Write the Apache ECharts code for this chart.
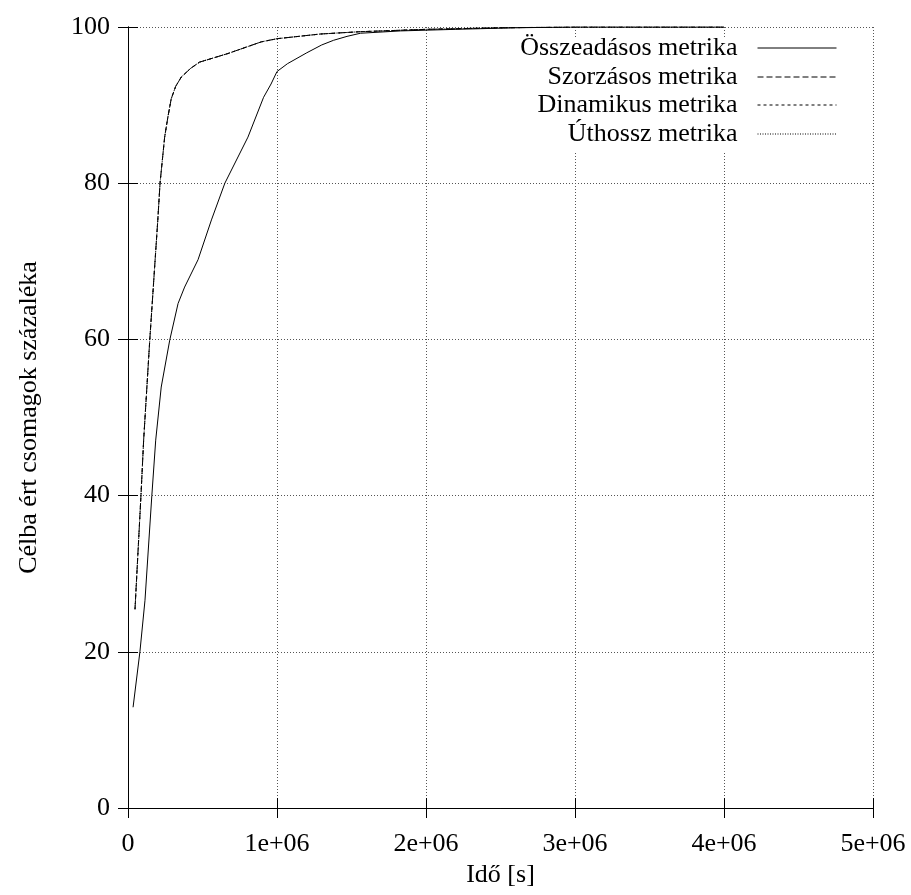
<!DOCTYPE html>
<html>
<head>
<meta charset="utf-8">
<script src="https://cdn.jsdelivr.net/npm/echarts@6/dist/echarts.min.js"></script>
<style>
  html, body { margin: 0; padding: 0; background: #fff; }
  #chart { width: 911px; height: 895px; }
</style>
</head>
<body>
<div id="chart"></div>
<script>
// Delivered-packet percentage over time for four routing metrics
const seriesNames = ['Összeadásos metrika', 'Szorzásos metrika', 'Dinamikus metrika', 'Úthossz metrika'];

// [time in seconds, percent]
const osszeadasos = [
  [34000, 12.9], [80000, 20], [114000, 26.6], [160000, 40], [186000, 47.1],
  [223000, 53.9], [280000, 59.9], [336000, 64.6], [380000, 66.7], [470000, 70.2],
  [560000, 75.3], [650000, 80], [805000, 85.9], [910000, 91], [960000, 92.7],
  [1000000, 94.3], [1070000, 95.3], [1200000, 96.7], [1300000, 97.7], [1380000, 98.3],
  [1470000, 98.8], [1560000, 99.2], [1830000, 99.5], [2200000, 99.7], [2600000, 99.9],
  [3000000, 100], [4000000, 100]
];
const szorzasos = [
  [47000, 25.5], [87000, 40], [105000, 47.1], [146000, 59.9], [200000, 75.3],
  [215000, 80], [246000, 85.9], [268000, 88.5], [290000, 90.8], [320000, 92.4],
  [358000, 93.6], [420000, 94.7], [480000, 95.5], [670000, 96.6], [895000, 98.1],
  [1000000, 98.5], [1290000, 99.1], [1560000, 99.4], [2000000, 99.7], [2500000, 99.9],
  [3000000, 100], [4000000, 100]
];
const dinamikus = [
  [47000, 25.4], [87000, 40], [105000, 47.1], [146000, 59.9], [200000, 75.3],
  [215000, 80], [246000, 85.9], [268000, 88.5], [290000, 90.8], [320000, 92.4],
  [358000, 93.6], [420000, 94.7], [480000, 95.5], [670000, 96.6], [895000, 98.1],
  [1000000, 98.5], [1290000, 99.1], [1560000, 99.4], [2000000, 99.7], [2500000, 99.9],
  [3000000, 100], [4000000, 100]
];
const uthossz = [
  [47000, 25.5], [87000, 40], [105000, 47.1], [146000, 59.9], [200000, 75.3],
  [215000, 80], [246000, 85.9], [268000, 88.5], [290000, 90.8], [320000, 92.4],
  [358000, 93.6], [420000, 94.7], [480000, 95.5], [670000, 96.6], [895000, 98.1],
  [1000000, 98.5], [1290000, 99.1], [1560000, 99.4], [2000000, 99.7], [2500000, 99.9],
  [3000000, 100], [4000000, 100]
];

const xTickLabels = ['0', '1e+06', '2e+06', '3e+06', '4e+06', '5e+06'];
const yTickLabels = ['0', '20', '40', '60', '80', '100'];

const FONT = 'Liberation Serif';
const INK = '#000';
const lineTypes = ['solid', [6, 3], [3, 3], [1, 1.5]];
const dataSets = [osszeadasos, szorzasos, dinamikus, uthossz];

const gridBox = { left: 128, right: 38, top: 27, bottom: 87 };

const tickCommon = { show: true, inside: true, length: 10, lineStyle: { color: INK, width: 1 } };

const chart = echarts.init(document.getElementById('chart'), null, { renderer: 'canvas' });

// one legend block per row so every label stays right-aligned against its sample line
const legendTops = [35, 64, 92, 121];
const legends = seriesNames.map((name, i) => ({
  data: [name],
  right: 74,
  top: legendTops[i],
  padding: 0,
  align: 'right',
  orient: 'vertical',
  itemWidth: 79,
  itemHeight: 10,
  selectedMode: false,
  itemStyle: { color: 'transparent', borderColor: 'transparent', borderWidth: 0 },
  lineStyle: { color: INK, width: 1, type: lineTypes[i] },
  textStyle: { fontFamily: FONT, fontSize: 26, color: INK, lineHeight: 26, padding: [0, 15, 0, 0] }
}));

chart.setOption({
  animation: false,
  backgroundColor: '#fff',
  grid: gridBox,
  legend: legends,
  graphic: [{
    type: 'rect',
    z: 1,
    shape: { x: 472, y: 38, width: 399, height: 114 },
    style: { fill: '#fff' }
  }],
  xAxis: [{
    type: 'value',
    min: 0, max: 5000000, interval: 1000000,
    name: 'Idő [s]',
    nameLocation: 'middle',
    nameGap: 47,
    nameTextStyle: { fontFamily: FONT, fontSize: 26, color: INK },
    axisLine: { show: true, onZero: false, lineStyle: { color: INK, width: 1 } },
    axisTick: tickCommon,
    axisLabel: {
      fontFamily: FONT, fontSize: 26, color: INK, margin: 23,
      formatter: (v) => xTickLabels[Math.round(v / 1000000)]
    },
    splitLine: { show: true, lineStyle: { color: '#555', width: 1, type: [1, 2] } }
  }, {
    type: 'value', position: 'top',
    min: 0, max: 5000000, interval: 1000000,
    axisLine: { show: true, lineStyle: { color: INK, width: 1 } },
    axisTick: tickCommon,
    axisLabel: { show: false },
    splitLine: { show: false }
  }],
  yAxis: [{
    type: 'value',
    min: 0, max: 100, interval: 20,
    name: 'Célba ért csomagok százaléka',
    nameLocation: 'middle',
    nameGap: 86,
    nameTextStyle: { fontFamily: FONT, fontSize: 26, color: INK },
    axisLine: { show: true, onZero: false, lineStyle: { color: INK, width: 1 } },
    axisTick: tickCommon,
    axisLabel: {
      fontFamily: FONT, fontSize: 26, color: INK, margin: 18,
      formatter: (v) => yTickLabels[Math.round(v / 20)]
    },
    splitLine: { show: true, lineStyle: { color: '#555', width: 1, type: [1, 2] } }
  }, {
    type: 'value', position: 'right',
    min: 0, max: 100, interval: 20,
    axisLine: { show: true, lineStyle: { color: INK, width: 1 } },
    axisTick: tickCommon,
    axisLabel: { show: false },
    splitLine: { show: false }
  }],
  series: seriesNames.map((name, i) => ({
    name,
    type: 'line',
    xAxisIndex: 0,
    yAxisIndex: 0,
    data: dataSets[i],
    showSymbol: false,
    symbol: 'none',
    smooth: false,
    lineStyle: { color: INK, width: 1, type: lineTypes[i] },
    itemStyle: { color: INK },
    z: 2 + i
  }))
});
</script>
</body>
</html>
